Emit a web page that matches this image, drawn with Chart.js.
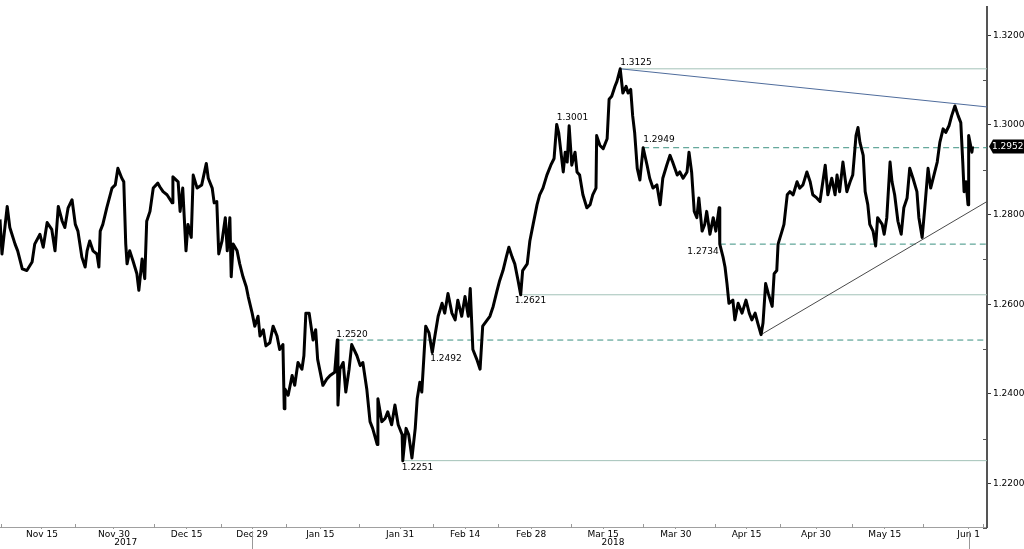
<!DOCTYPE html>
<html>
<head>
<meta charset="utf-8">
<script src="https://cdn.jsdelivr.net/npm/chart.js@4.4.1/dist/chart.umd.min.js"></script>
<style>
  body { margin: 0; background: #fff; }
  canvas { display: block; }
</style>
</head>
<body>
<canvas id="usdcad" width="1024" height="549"></canvas>
<script>
// position of each sample in trading days from the left edge
const tradeDay = [
  0.0,0.3,1.1,1.5,2.3,2.7,3.4,4.1,4.9,5.3,
  6.1,6.6,7.2,7.9,8.4,8.9,9.5,9.9,10.4,11.0,
  11.5,11.9,12.5,13.0,13.3,13.7,14.2,14.8,15.1,15.3,
  15.7,16.3,17.1,17.6,18.0,18.6,18.9,19.2,19.4,19.8,
  20.3,20.9,21.2,21.7,22.1,22.4,22.9,23.4,24.1,24.4,
  24.9,25.5,26.3,26.4,27.2,27.5,27.9,28.4,28.7,29.2,
  29.5,30.1,30.8,31.5,31.8,32.4,32.7,33.1,33.4,33.9,
  34.4,34.7,35.1,35.3,35.6,36.2,36.6,37.1,37.6,37.9,
  38.5,38.9,39.4,39.7,40.2,40.6,41.2,41.7,42.3,42.7,
  43.2,43.4,43.5,44.0,44.6,45.0,45.5,46.1,46.4,46.7,
  47.2,47.8,48.2,48.5,49.3,49.9,50.4,51.1,51.5,51.6,
  51.9,52.4,52.8,53.3,53.7,54.5,55.0,55.4,56.0,56.5,
  56.9,57.6,57.7,58.3,58.8,59.2,59.8,60.3,60.8,61.4,
  61.5,62.0,62.4,62.9,63.4,63.7,64.1,64.4,64.7,65.0,
  65.5,66.0,66.4,66.9,67.5,67.9,68.4,69.0,69.5,69.9,
  70.5,71.0,71.5,71.8,72.2,72.8,73.3,73.7,74.4,74.8,
  75.3,75.9,76.3,76.8,77.3,77.7,78.2,78.6,79.1,79.5,
  79.8,80.5,80.9,81.4,82.0,82.4,82.9,83.5,84.1,84.6,
  85.0,85.3,86.0,86.3,86.6,86.9,87.3,87.8,88.1,88.5,
  89.0,89.6,90.1,90.5,91.0,91.1,91.6,92.1,92.7,93.0,
  93.4,93.9,94.2,94.7,95.1,95.6,95.9,96.3,96.6,96.9,
  97.3,97.7,98.2,98.8,99.2,99.7,100.3,100.8,101.2,101.8,
  102.3,102.7,103.4,103.8,104.3,104.9,105.2,105.6,106.0,106.4,
  106.7,107.2,107.6,107.9,108.4,108.9,109.3,109.8,109.9,110.4,
  110.7,111.0,111.3,111.9,112.2,112.7,113.3,113.9,114.4,114.8,
  115.3,115.7,116.2,116.5,116.9,117.3,117.9,118.2,118.6,118.8,
  119.4,119.7,120.2,120.6,121.1,121.7,122.1,122.6,123.2,123.7,
  124.1,124.7,125.2,126.0,126.4,127.0,127.5,127.8,128.2,128.7,
  129.3,129.8,130.2,130.7,131.0,131.3,131.8,132.1,132.5,132.8,
  133.3,133.7,134.0,134.7,135.0,135.4,135.9,136.2,136.6,137.1,
  137.6,138.0,138.5,138.9,139.4,140.0,140.3,140.8,141.2,141.7,
  142.1,142.6,143.1,143.5,144.0,144.4,144.9,145.3,145.8,146.3,
  146.7,147.0,147.2,147.5,147.8,147.9,148.4,148.5
];
const closePrice = [
  1.2789,1.2712,1.2818,1.2771,1.2734,1.2719,1.2679,1.2675,1.2694,1.2734,
  1.2756,1.2727,1.2782,1.2767,1.2719,1.2818,1.2785,1.2771,1.2815,1.2833,
  1.2778,1.2763,1.2705,1.2683,1.2719,1.2741,1.2719,1.2712,1.2683,1.2763,
  1.2778,1.2815,1.2859,1.2866,1.2903,1.2881,1.2873,1.2734,1.2690,1.2719,
  1.2697,1.2668,1.2631,1.2701,1.2657,1.2785,1.2807,1.2859,1.2870,1.2862,
  1.2851,1.2844,1.2826,1.2884,1.2873,1.2807,1.2859,1.2719,1.2778,1.2749,
  1.2888,1.2859,1.2866,1.2914,1.2881,1.2859,1.2826,1.2829,1.2712,1.2741,
  1.2793,1.2719,1.2793,1.2661,1.2734,1.2719,1.2690,1.2661,1.2639,1.2617,
  1.2580,1.2551,1.2573,1.2529,1.2543,1.2507,1.2514,1.2551,1.2529,1.2499,
  1.2510,1.2367,1.2411,1.2397,1.2441,1.2419,1.2470,1.2455,1.2485,1.2580,
  1.2580,1.2520,1.2543,1.2477,1.2419,1.2433,1.2441,1.2448,1.2520,1.2375,
  1.2455,1.2470,1.2404,1.2455,1.2510,1.2485,1.2463,1.2470,1.2411,1.2338,
  1.2323,1.2287,1.2389,1.2338,1.2345,1.2360,1.2331,1.2375,1.2331,1.2309,
  1.2251,1.2323,1.2309,1.2257,1.2323,1.2389,1.2426,1.2404,1.2477,1.2551,
  1.2536,1.2492,1.2529,1.2573,1.2602,1.2580,1.2624,1.2580,1.2565,1.2609,
  1.2573,1.2617,1.2573,1.2635,1.2499,1.2477,1.2455,1.2551,1.2565,1.2573,
  1.2595,1.2631,1.2653,1.2675,1.2705,1.2727,1.2705,1.2690,1.2653,1.2621,
  1.2675,1.2690,1.2741,1.2778,1.2822,1.2844,1.2859,1.2888,1.2910,1.2925,
  1.3001,1.2983,1.2895,1.2939,1.2917,1.2998,1.2910,1.2939,1.2895,1.2888,
  1.2844,1.2815,1.2822,1.2844,1.2859,1.2976,1.2954,1.2947,1.2969,1.3057,
  1.3064,1.3086,1.3097,1.3125,1.3071,1.3086,1.3071,1.3079,1.3020,1.2983,
  1.2903,1.2877,1.2949,1.2910,1.2881,1.2859,1.2866,1.2822,1.2881,1.2910,
  1.2932,1.2917,1.2888,1.2895,1.2881,1.2895,1.2939,1.2895,1.2807,1.2793,
  1.2837,1.2763,1.2778,1.2807,1.2756,1.2793,1.2763,1.2815,1.2734,1.2705,
  1.2683,1.2646,1.2602,1.2609,1.2565,1.2602,1.2580,1.2609,1.2580,1.2565,
  1.2580,1.2558,1.2532,1.2558,1.2646,1.2624,1.2595,1.2668,1.2675,1.2734,
  1.2763,1.2778,1.2844,1.2851,1.2844,1.2873,1.2859,1.2866,1.2895,1.2873,
  1.2844,1.2837,1.2829,1.2910,1.2844,1.2881,1.2844,1.2888,1.2851,1.2917,
  1.2851,1.2873,1.2888,1.2976,1.2994,1.2961,1.2932,1.2851,1.2822,1.2778,
  1.2763,1.2730,1.2793,1.2778,1.2756,1.2793,1.2917,1.2873,1.2844,1.2785,
  1.2756,1.2815,1.2837,1.2903,1.2881,1.2851,1.2793,1.2749,1.2815,1.2903,
  1.2859,1.2888,1.2917,1.2961,1.2991,1.2983,1.2998,1.3020,1.3042,1.3020,
  1.3005,1.2917,1.2851,1.2873,1.2822,1.2976,1.2939,1.2952
];

// x axis
const dayMax = 150.7;
const axisDays = [6.4, 17.4, 28.5, 38.5, 48.9, 61.1, 71.0, 81.1, 92.1, 103.2, 114.0, 124.6, 135.1, 147.9];
const axisLabels = ['Nov 15', 'Nov 30', 'Dec 15', 'Dec 29', 'Jan 15', 'Jan 31', 'Feb 14', 'Feb 28',
                    'Mar 15', 'Mar 30', 'Apr 15', 'Apr 30', 'May 15', 'Jun 1'];
const minorDays = [0.2, 11.5, 23.5, 33.7, 43.7, 54.8, 66.1, 76.0, 87.2, 98.2, 109.2, 119.1, 130.1, 140.9, 150.1];
const yearLabels = ['2017', '2018'];
const yearDays = [19.2, 93.6];
const yearBreaks = [38.5, 147.9];

// y axis
const yMin = 1.2103, yMax = 1.3262;
const yTicks = [1.22, 1.24, 1.26, 1.28, 1.30, 1.32];
const yMinor = [1.21, 1.23, 1.25, 1.27, 1.29, 1.31];
const lastPrice = 1.2952;

// support / resistance levels
const levelValues = [1.3125, 1.2949, 1.2734, 1.2621, 1.2520, 1.2251];
const levelStart = [94.7, 98.2, 109.9, 79.5, 51.5, 61.5];
const levelDashed = [false, true, true, false, true, false];

// trend lines
const trendDays = [[94.7, 150.7], [116.2, 150.7]];
const trendValues = [[1.3125, 1.3040], [1.2532, 1.2829]];
const trendColors = ['#4f6c9c', '#4a4a4a'];

// labels on the highs and lows
const noteValues = [1.3125, 1.3001, 1.2949, 1.2734, 1.2621, 1.2520, 1.2492, 1.2251];
const noteDays = [94.7, 85.0, 98.2, 109.9, 79.5, 51.5, 66.0, 61.5];
const noteShift = [[0, -6, 'left'], [0, -7, 'left'], [0, -8, 'left'], [-1, 8, 'right'],
                   [-6, 6, 'left'], [-1, -5, 'left'], [-2, 6, 'left'], [-1, 7, 'left']];

const FONT = '"DejaVu Sans", Verdana, sans-serif';

var datasets = [];
datasets.push({
  data: tradeDay.map((d, i) => ({x: d, y: closePrice[i]})),
  borderColor: '#000',
  borderWidth: 3,
  borderJoinStyle: 'round',
  pointRadius: 0,
  order: 0
});
for (var i = 0; i < levelValues.length; i++) {
  datasets.push({
    data: [{x: levelStart[i], y: levelValues[i]}, {x: dayMax, y: levelValues[i]}],
    borderColor: levelDashed[i] ? '#3a9080' : '#a3c2b8',
    borderWidth: 1,
    borderDash: levelDashed[i] ? [6, 4] : [],
    pointRadius: 0,
    order: 2
  });
}
for (var i = 0; i < trendDays.length; i++) {
  datasets.push({
    data: [{x: trendDays[i][0], y: trendValues[i][0]}, {x: trendDays[i][1], y: trendValues[i][1]}],
    borderColor: trendColors[i],
    borderWidth: 1,
    pointRadius: 0,
    order: 1
  });
}

const decor = {
  id: 'decor',
  afterDraw(chart) {
    const ctx = chart.ctx;
    const x = chart.scales.x, y = chart.scales.y;
    const area = chart.chartArea;
    ctx.save();

    // small marks between the date labels
    ctx.strokeStyle = '#999';
    ctx.lineWidth = 1;
    minorDays.forEach(d => {
      const px = Math.round(x.getPixelForValue(d)) + 0.5;
      ctx.beginPath(); ctx.moveTo(px, area.bottom - 3); ctx.lineTo(px, area.bottom + 1); ctx.stroke();
    });
    yearBreaks.forEach(d => {
      const px = Math.round(x.getPixelForValue(d)) + 0.5;
      ctx.beginPath(); ctx.moveTo(px, area.bottom + 4); ctx.lineTo(px, 549); ctx.stroke();
    });

    // minor y marks
    ctx.strokeStyle = '#555';
    yMinor.forEach(v => {
      const py = Math.round(y.getPixelForValue(v)) + 0.5;
      ctx.beginPath(); ctx.moveTo(area.right - 4, py); ctx.lineTo(area.right, py); ctx.stroke();
    });

    ctx.font = '9px ' + FONT;
    ctx.fillStyle = '#000';
    ctx.textBaseline = 'middle';
    ctx.textAlign = 'center';
    yearLabels.forEach((t, i) => ctx.fillText(t, x.getPixelForValue(yearDays[i]), 543));

    noteValues.forEach((v, i) => {
      ctx.textAlign = noteShift[i][2];
      ctx.fillText(v.toFixed(4), x.getPixelForValue(noteDays[i]) + noteShift[i][0],
                   y.getPixelForValue(v) + noteShift[i][1]);
    });

    // last price tag
    const py = y.getPixelForValue(lastPrice);
    ctx.fillStyle = '#000';
    ctx.beginPath();
    ctx.moveTo(area.right + 2, py);
    ctx.lineTo(area.right + 6, py - 7);
    ctx.lineTo(1024, py - 7);
    ctx.lineTo(1024, py + 7);
    ctx.lineTo(area.right + 6, py + 7);
    ctx.closePath();
    ctx.fill();
    ctx.fillStyle = '#fff';
    ctx.textAlign = 'left';
    ctx.font = '9px ' + FONT;
    ctx.fillText(lastPrice.toFixed(4), area.right + 5, py + 0.5);
    ctx.restore();
  }
};

new Chart(document.getElementById('usdcad'), {
  type: 'line',
  data: { datasets: datasets },
  options: {
    responsive: false,
    animation: false,
    devicePixelRatio: 1,
    layout: { padding: 0 },
    plugins: { legend: { display: false }, tooltip: { enabled: false } },
    scales: {
      x: {
        type: 'linear',
        min: 0,
        max: dayMax,
        afterFit: s => { s.height = 22; },
        afterBuildTicks: s => { s.ticks = axisDays.map(v => ({value: v})); },
        ticks: {
          autoSkip: false,
          maxRotation: 0,
          padding: 0,
          color: '#000',
          font: { family: FONT, size: 9 },
          callback: v => axisLabels[axisDays.indexOf(v)]
        },
        grid: { drawOnChartArea: false, tickLength: 2, tickColor: '#999' },
        border: { color: '#a0a0a0', width: 1 }
      },
      y: {
        position: 'right',
        min: yMin,
        max: yMax,
        afterFit: s => { s.width = 37; },
        afterBuildTicks: s => { s.ticks = yTicks.map(v => ({value: v})); },
        ticks: {
          padding: 2,
          color: '#000',
          font: { family: FONT, size: 9 },
          callback: v => v.toFixed(4)
        },
        grid: { drawOnChartArea: false, tickLength: 4, tickColor: '#333' },
        border: { color: '#555', width: 2 }
      }
    }
  },
  plugins: [decor]
});
</script>
</body>
</html>
